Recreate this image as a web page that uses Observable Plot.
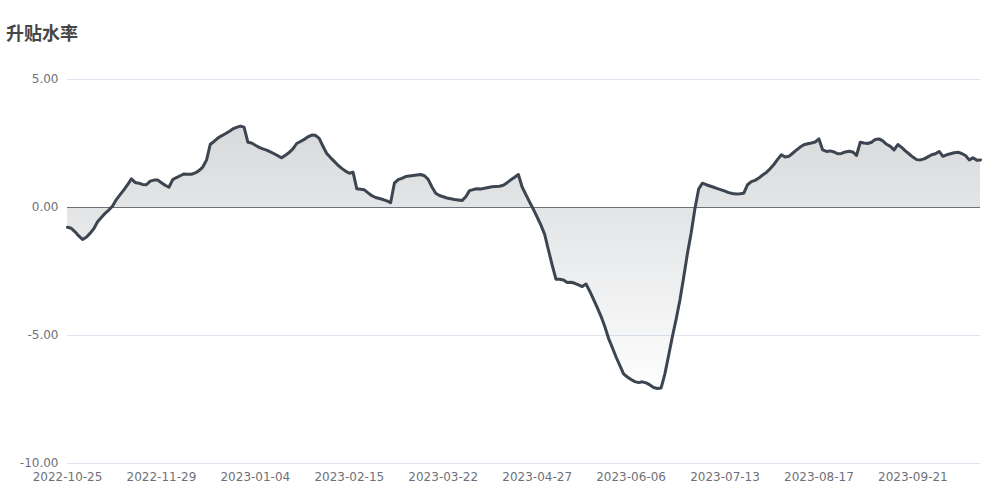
<!DOCTYPE html>
<html>
<head>
<meta charset="utf-8">
<script src="https://cdn.jsdelivr.net/npm/d3@7"></script>
<script src="https://cdn.jsdelivr.net/npm/@observablehq/plot@0.6"></script>
<style>
  html, body { margin: 0; padding: 0; background: #fff; }
  #title { height: 55px; box-sizing: border-box; padding: 22px 0 0 6px; font: bold 18px/20px "Noto Sans CJK SC", sans-serif; color: #464646; }
</style>
</head>
<body>
<div id="title">升贴水率</div>
<div id="chart"></div>
<script>
// x-axis tick labels (category axis, one label every 25 trading days)
const tickLabels = ["2022-10-25", "2022-11-29", "2023-01-04", "2023-02-15", "2023-03-22",
                    "2023-04-27", "2023-06-06", "2023-07-13", "2023-08-17", "2023-09-21"];
const tickStep = 25;
const yTicks = [-10, -5, 0, 5];

// basis rate per trading day
const values = [
  -0.77, -0.81, -0.95, -1.11, -1.25, -1.16, -1.01, -0.83, -0.56, -0.39,
  -0.23, -0.10, 0.06, 0.31, 0.50, 0.69, 0.89, 1.12, 0.98, 0.95,
  0.90, 0.89, 1.03, 1.07, 1.07, 0.97, 0.87, 0.79, 1.09, 1.17,
  1.24, 1.31, 1.30, 1.30, 1.35, 1.44, 1.58, 1.85, 2.47, 2.58,
  2.71, 2.80, 2.88, 2.97, 3.07, 3.13, 3.18, 3.14, 2.55, 2.52,
  2.43, 2.35, 2.29, 2.24, 2.17, 2.10, 2.02, 1.94, 2.04, 2.15,
  2.29, 2.50, 2.58, 2.66, 2.76, 2.83, 2.82, 2.70, 2.39, 2.11,
  1.95, 1.80, 1.65, 1.53, 1.42, 1.34, 1.38, 0.73, 0.71, 0.69,
  0.57, 0.46, 0.39, 0.35, 0.31, 0.26, 0.19, 0.95, 1.09, 1.14,
  1.21, 1.23, 1.25, 1.27, 1.29, 1.24, 1.10, 0.80, 0.56, 0.47,
  0.42, 0.37, 0.34, 0.31, 0.29, 0.27, 0.42, 0.66, 0.70, 0.73,
  0.72, 0.75, 0.78, 0.81, 0.82, 0.83, 0.87, 0.97, 1.08, 1.18,
  1.29, 0.80, 0.50, 0.21, -0.07, -0.38, -0.69, -1.05, -1.66, -2.25,
  -2.80, -2.80, -2.83, -2.93, -2.92, -2.96, -3.02, -3.09, -2.99, -3.27,
  -3.59, -3.91, -4.25, -4.65, -5.11, -5.47, -5.84, -6.17, -6.50, -6.62,
  -6.72, -6.80, -6.84, -6.81, -6.85, -6.93, -7.03, -7.07, -7.05, -6.50,
  -5.77, -5.04, -4.36, -3.61, -2.72, -1.80, -0.99, -0.04, 0.73, 0.95,
  0.89, 0.84, 0.79, 0.74, 0.69, 0.64, 0.58, 0.55, 0.53, 0.54,
  0.56, 0.89, 1.01, 1.06, 1.15, 1.27, 1.37, 1.51, 1.68, 1.88,
  2.06, 1.97, 2.00, 2.12, 2.24, 2.36, 2.45, 2.49, 2.52, 2.56,
  2.68, 2.25, 2.19, 2.21, 2.17, 2.10, 2.11, 2.17, 2.20, 2.17,
  2.03, 2.55, 2.52, 2.50, 2.55, 2.66, 2.68, 2.60, 2.47, 2.39,
  2.25, 2.46, 2.35, 2.21, 2.09, 1.97, 1.87, 1.86, 1.90, 1.98,
  2.06, 2.10, 2.19, 2.00, 2.06, 2.10, 2.14, 2.16, 2.11, 2.03,
  1.86, 1.94, 1.85, 1.86
];

const data = values.map((v, i) => ({i, v}));
const tickIdx = tickLabels.map((_, k) => k * tickStep);

const chart = Plot.plot({
  width: 1000,
  height: 445,
  marginTop: 24,
  marginBottom: 37,
  marginLeft: 67,
  marginRight: 20,
  style: {fontFamily: "'DejaVu Sans', sans-serif", fontSize: "12px", color: "#6e7079", background: "#fff"},
  x: {type: "linear", domain: [0, values.length - 1]},
  y: {domain: [-10, 5]},
  marks: [
    Plot.gridY(yTicks, {stroke: "#e0e6f1", strokeOpacity: 1}),
    Plot.areaY(data, {x: "i", y: "v", fill: "url(#basisGrad)"}),
    Plot.ruleY([0], {stroke: "#6e7079", strokeWidth: 1}),
    Plot.lineY(data, {x: "i", y: "v", stroke: "#3c4550", strokeWidth: 3, strokeLinejoin: "round", strokeLinecap: "round"}),
    Plot.axisY(yTicks, {tickSize: 0, tickPadding: 9, tickFormat: d => d.toFixed(2), label: null, fill: "#6e7079"}),
    Plot.axisX(tickIdx, {tickSize: 0, tickPadding: 9, tickFormat: d => tickLabels[Math.round(d / tickStep)], label: null, fill: "#6e7079"})
  ]
});

const ns = "http://www.w3.org/2000/svg";
const defs = document.createElementNS(ns, "defs");
defs.innerHTML = `<linearGradient id="basisGrad" x1="0" y1="0" x2="0" y2="1">
  <stop offset="0" stop-color="#3a434e" stop-opacity="0.2"/>
  <stop offset="1" stop-color="#3a434e" stop-opacity="0.01"/>
</linearGradient>`;
chart.insertBefore(defs, chart.firstChild);
document.getElementById("chart").appendChild(chart);
</script>
</body>
</html>
